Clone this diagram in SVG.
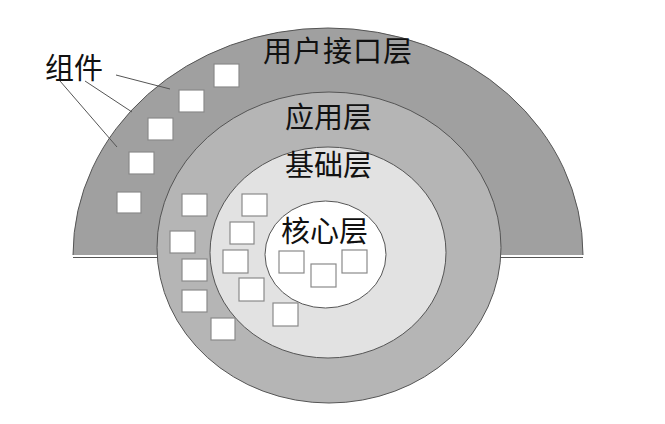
<svg xmlns="http://www.w3.org/2000/svg" width="665" height="424" viewBox="0 0 665 424">
<style>
.lbl{font-family:"Noto Sans CJK SC","Noto Sans CJK TC",sans-serif;font-size:29px;fill:#111}
.ring{stroke:#555;stroke-width:1}
.sq{fill:#fff;stroke:#8a8a8a;stroke-width:1.2}
.ptr{stroke:#555;stroke-width:1;fill:none}
</style>
<rect width="665" height="424" fill="#fff"/>
<g id="ui-layer">
<path d="M73,255 A255,227 0 0 1 583,255 Z" fill="#a0a0a0" stroke="none"/>
<path class="ring" d="M73,255 A255,227 0 0 1 583,255" fill="none"/>
<line x1="73" y1="257.5" x2="583" y2="257.5" stroke="#555" stroke-width="1.2"/>
<text class="lbl" x="263" y="62" letter-spacing="1">用户接口层</text>
</g>
<g id="app-layer">
<ellipse class="ring" cx="329" cy="247.5" rx="172" ry="155.5" fill="#b5b5b5"/>
<text class="lbl" x="285" y="128">应用层</text>
</g>
<g id="base-layer">
<ellipse class="ring" cx="328" cy="252.5" rx="118" ry="105.5" fill="#e2e2e2"/>
<text class="lbl" x="285" y="176">基础层</text>
</g>
<g id="core-layer">
<ellipse class="ring" cx="325.5" cy="254.5" rx="60.5" ry="53.5" fill="#fff"/>
<text class="lbl" x="281" y="242">核心层</text>
</g>
<g id="components">
<rect class="sq" x="214" y="64" width="25" height="23"/>
<rect class="sq" x="179" y="90" width="25" height="22"/>
<rect class="sq" x="148" y="118" width="25" height="22"/>
<rect class="sq" x="129" y="152" width="25" height="22"/>
<rect class="sq" x="117" y="192" width="24" height="21"/>
<rect class="sq" x="182" y="194" width="25" height="22"/>
<rect class="sq" x="170" y="231" width="25" height="22"/>
<rect class="sq" x="182" y="259" width="25" height="22"/>
<rect class="sq" x="182" y="290" width="25" height="22"/>
<rect class="sq" x="211" y="318" width="24" height="22"/>
<rect class="sq" x="242" y="194" width="25" height="22"/>
<rect class="sq" x="230" y="222" width="24" height="22"/>
<rect class="sq" x="223" y="250" width="25" height="23"/>
<rect class="sq" x="239" y="278" width="25" height="23"/>
<rect class="sq" x="273" y="303" width="25" height="23"/>
<rect class="sq" x="279" y="251" width="25" height="22"/>
<rect class="sq" x="311" y="264" width="25" height="23"/>
<rect class="sq" x="342" y="250" width="25" height="23"/>
</g>
<g id="component-label">
<text class="lbl" x="45" y="79">组件</text>
</g>
<g id="connectors">
<line class="ptr" x1="116" y1="75" x2="170" y2="89"/>
<line class="ptr" x1="85" y1="81" x2="132" y2="112"/>
<line class="ptr" x1="60" y1="81" x2="117" y2="147"/>
</g>
</svg>
